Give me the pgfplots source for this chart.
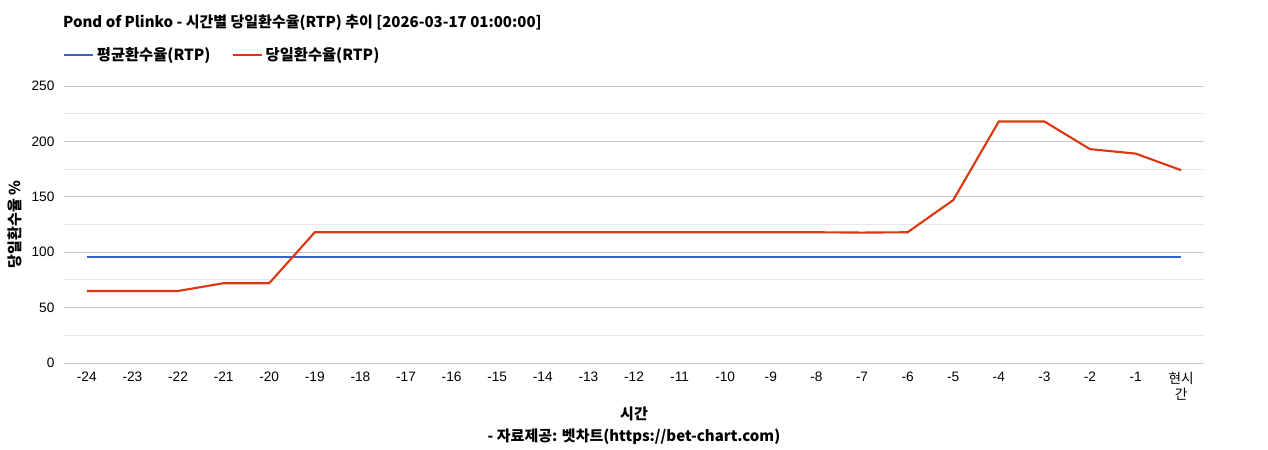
\documentclass[border=0pt]{standalone}
\usepackage{pgfplots}
\pgfplotsset{compat=1.18}
\usepackage{fontspec}
\setmainfont{Liberation Sans}
\newfontfamily\kr{Noto Sans CJK KR}
\definecolor{avgblue}{HTML}{3366CC}
\definecolor{dayred}{HTML}{DC3912}
\begin{document}
\begin{tikzpicture}
\path[use as bounding box] (-48pt,-65.25pt) rectangle (903pt,272.25pt);
\begin{axis}[
  at={(0,0)}, anchor=south west,
  scale only axis, width=855pt, height=207.75pt,
  xmin=-0.5, xmax=24.5, ymin=0, ymax=250,
  xtick={0,...,24},
  xticklabels={-24,-23,-22,-21,-20,-19,-18,-17,-16,-15,-14,-13,-12,-11,-10,-9,-8,-7,-6,-5,-4,-3,-2,-1,{\kr 현시\\\kr 간}},
  ytick={0,50,...,250}, minor ytick={25,75,...,225},
  extra y ticks={0}, extra y tick labels={},
  extra y tick style={grid style={black!80, line width=0.75pt}},
  ymajorgrids, yminorgrids,
  major grid style={color=black!22, line width=0.75pt},
  minor grid style={color=black!9, line width=0.75pt},
  axis line style={draw=none},
  major tick length=0pt, minor tick length=0pt,
  tick label style={font=\fontsize{10.25}{12}\selectfont},
  /pgf/number format/assume math mode=true,
  yticklabel style={anchor=east, inner sep=0pt, xshift=-7pt},
  xticklabel style={anchor=north, inner sep=0pt, yshift=-6.5pt, align=center},
  ylabel={당일환수율 \%},
  ylabel style={at={(axis description cs:-0.043,0.5)}, anchor=center, font=\kr\bfseries\fontsize{11.25}{13}\selectfont},
  xlabel={시간\\[1pt]- 자료제공: 벳차트(https://bet-chart.com)},
  xlabel style={align=center, at={(axis description cs:0.5,-0.227)}, anchor=center, font=\kr\bfseries\fontsize{11.25}{15.5}\selectfont},
  title={Pond of Plinko - 시간별 당일환수율(RTP) 추이 [2026-03-17 01:00:00]},
  title style={anchor=west, at={(axis description cs:-0.001,1.199)}, inner sep=0pt, font=\kr\bfseries\fontsize{11.25}{13}\selectfont},
  legend columns=2,
  legend style={draw=none, fill=none, at={(axis description cs:-0.001,1.112)}, anchor=west,
    inner sep=0pt, font=\kr\bfseries\fontsize{11.5}{13}\selectfont,
    /tikz/every even column/.append style={column sep=14pt}},
  legend image code/.code={\draw[#1] (0pt,0pt) -- (21.75pt,0pt);},
]
\addplot[avgblue, line width=1.6pt] coordinates {
  (0,96) (1,96) (2,96) (3,96) (4,96) (5,96) (6,96) (7,96) (8,96) (9,96)
  (10,96) (11,96) (12,96) (13,96) (14,96) (15,96) (16,96) (17,96) (18,96)
  (19,96) (20,96) (21,96) (22,96) (23,96) (24,96)};
\addplot[dayred, line width=1.6pt] coordinates {
  (0,65) (1,65) (2,65) (3,72) (4,72) (5,118) (6,118) (7,118) (8,118) (9,118)
  (10,118) (11,118) (12,118) (13,118) (14,118) (15,118) (16,118) (17,117.7)
  (18,118) (19,147) (20,218) (21,218) (22,193) (23,189) (24,174)};
\legend{평균환수율(RTP), 당일환수율(RTP)}
\end{axis}
\end{tikzpicture}
\end{document}
